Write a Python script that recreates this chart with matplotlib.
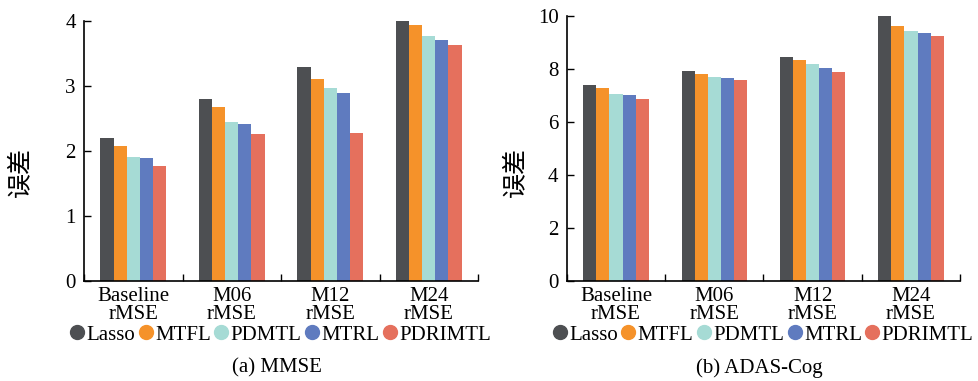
import numpy as np
import matplotlib
matplotlib.use("Agg")
import matplotlib.pyplot as plt
from matplotlib.lines import Line2D

plt.rcParams['font.family'] = ['Liberation Serif', 'Noto Sans CJK SC']

# categories and methods
groups = ['Baseline\nrMSE', 'M06\nrMSE', 'M12\nrMSE', 'M24\nrMSE']
methods = ['Lasso', 'MTFL', 'PDMTL', 'MTRL', 'PDRIMTL']
colors = ['#4d4f52', '#f5922a', '#a6dbd5', '#5f7bbf', '#e5705d']

# (a) MMSE, one list per method over the four groups
mmse_lasso = [2.20, 2.79, 3.29, 4.00]
mmse_mtfl = [2.08, 2.67, 3.11, 3.93]
mmse_pdmtl = [1.91, 2.44, 2.96, 3.77]
mmse_mtrl = [1.89, 2.42, 2.89, 3.70]
mmse_pdrimtl = [1.77, 2.26, 2.28, 3.63]

# (b) ADAS-Cog
adas_lasso = [7.39, 7.91, 8.44, 10.0]
adas_mtfl = [7.27, 7.79, 8.34, 9.62]
adas_pdmtl = [7.05, 7.68, 8.19, 9.42]
adas_mtrl = [7.00, 7.64, 8.02, 9.36]
adas_pdrimtl = [6.88, 7.58, 7.89, 9.22]

mmse = [mmse_lasso, mmse_mtfl, mmse_pdmtl, mmse_mtrl, mmse_pdrimtl]
adas = [adas_lasso, adas_mtfl, adas_pdmtl, adas_mtrl, adas_pdrimtl]

fig = plt.figure(figsize=(9.79, 3.81), dpi=100)
ax1 = fig.add_axes([0.0858, 0.2625, 0.4025, 0.683])
ax2 = fig.add_axes([0.579, 0.2625, 0.4017, 0.696])


def draw(ax, data, ymax, yticks, caption, ylab_xy):
    x = np.arange(len(groups))
    w = 2 / 3 / len(methods)
    for i, (vals, c) in enumerate(zip(data, colors)):
        ax.bar(x + (i - 2) * w, vals, w, color=c, linewidth=0)
    ax.set_xlim(-0.5, len(groups) - 0.5)
    ax.set_ylim(0, ymax)
    ax.set_yticks(yticks)
    ax.set_yticklabels([str(t) for t in yticks], fontsize=15)
    ax.set_xticks(x)
    ax.set_xticklabels(groups, fontsize=15, linespacing=0.95)
    ax.tick_params(axis='x', length=0, pad=4)
    ax.set_xticks(np.arange(len(groups) + 1) - 0.5, minor=True)
    ax.tick_params(axis='x', which='minor', direction='in', length=5, width=1)
    ax.tick_params(axis='y', direction='in', length=5, width=1, pad=6)
    for s in ['top', 'right']:
        ax.spines[s].set_visible(False)
    for s in ['left', 'bottom']:
        ax.spines[s].set_linewidth(1.2)
    ax.set_ylabel('误差', fontsize=18, family=['Noto Sans CJK SC'])
    ax.yaxis.set_label_coords(*ylab_xy)
    handles = [Line2D([], [], marker='o', linestyle='', markersize=10,
                      color=c) for c in colors]
    bb = ax.get_position()
    cx = (bb.x0 + bb.x1) / 2
    fig.legend(handles, methods, loc='center', bbox_to_anchor=(cx, 0.121),
               ncol=5, frameon=False, fontsize=15, handlelength=0.6,
               handletextpad=0.15, columnspacing=0.2, borderpad=0,
               borderaxespad=0)
    fig.text(cx - 0.004, 0.034, caption, ha='center', va='center', fontsize=15)


draw(ax1, mmse, 4, [0, 1, 2, 3, 4], '(a) MMSE', (-0.129, 0.42))
draw(ax2, adas, 10, [0, 2, 4, 6, 8, 10], '(b) ADAS-Cog', (-0.098, 0.41))

fig.savefig('out.png', dpi=100)
